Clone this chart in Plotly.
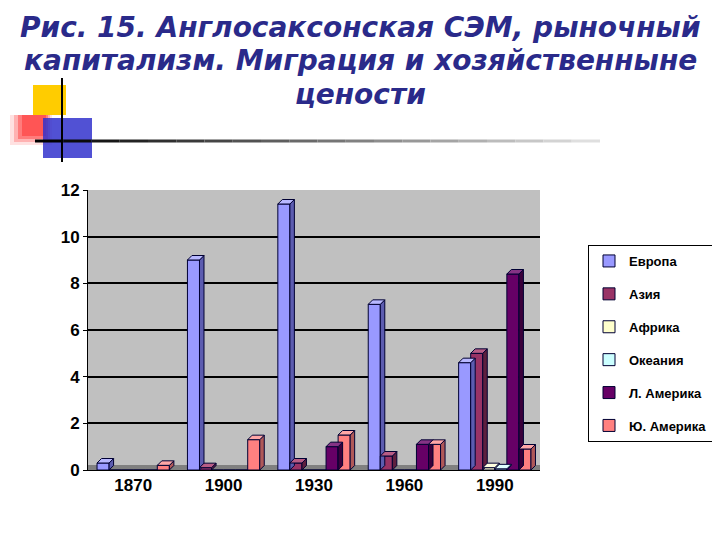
import plotly.graph_objects as go

years = ["1870", "1900", "1930", "1960", "1990"]
series_names = ["Европа", "Азия", "Африка", "Океания", "Л. Америка", "Ю. Америка"]
europe = [0.3, 9.0, 11.4, 7.1, 4.6]
asia = [0.0, 0.1, 0.3, 0.6, 5.0]
africa = [0.0, 0.0, 0.0, 0.0, 0.1]
oceania = [0.0, 0.0, 0.0, 0.0, 0.05]
lat_america = [0.0, 0.0, 1.0, 1.1, 8.4]
south_america = [0.2, 1.3, 1.5, 1.1, 0.9]
y_ticks = [0, 2, 4, 6, 8, 10, 12]
title_lines = ["Рис. 15. Англосаксонская СЭМ, рыночный",
               "капитализм. Миграция и хозяйственныне",
               "цености"]

values = [europe, asia, africa, oceania, lat_america, south_america]
colors = ["#9999ff", "#993366", "#ffffcc", "#ccffff", "#660066", "#ff8080"]
side_colors = ["#5c5cb0", "#5e1f3e", "#b0b08c", "#8cb0b0", "#3a003a", "#b05858"]
top_colors = ["#b8b8ff", "#b85c85", "#ffffe0", "#e0ffff", "#853385", "#ffa6a6"]

OFF = 8  # browser body margin
W, H = 720 - OFF, 540 - OFF
# plot area in reference pixel coordinates
PX0, PX1, PY0, PY1 = 88, 540, 190, 470
L, R, T, B = PX0 - OFF, W - (PX1 - OFF), PY0 - OFF, H - (PY1 - OFF)
pw, ph = PX1 - PX0, PY1 - PY0


def px(x):
    return (x - PX0) / pw


def py(y):
    return (PY1 - y) / ph


FONT = "Liberation Sans Narrow, Liberation Sans, Arial"

n_series = len(series_names)
bargap = 0.2
bw = (1 - bargap) / n_series
dx = 4.5 / (pw / len(years))
dy = 4.5 / (ph / 12)

fig = go.Figure()
shapes = []
xs = list(range(len(years)))
for i, (name, vals, col) in enumerate(zip(series_names, values, colors)):
    fig.add_trace(go.Bar(
        x=xs, y=vals, name=name, legendgroup=name,
        marker=dict(color=col, line=dict(color="#000033", width=1)),
    ))
    for j, v in enumerate(vals):
        if v <= 0:
            continue
        xl = j - (1 - bargap) / 2 + i * bw
        xr = xl + bw
        shapes.append(dict(type="path", xref="x", yref="y", layer="above",
                           path=f"M{xr},0 L{xr},{v} L{xr + dx},{v + dy} L{xr + dx},{dy} Z",
                           fillcolor=side_colors[i], line=dict(color="#000033", width=1)))
        shapes.append(dict(type="path", xref="x", yref="y", layer="above",
                           path=f"M{xl},{v} L{xl + dx},{v + dy} L{xr + dx},{v + dy} L{xr},{v} Z",
                           fillcolor=top_colors[i], line=dict(color="#000033", width=1)))

# floor strip
shapes.append(dict(type="rect", xref="paper", yref="paper", x0=0, x1=1, y0=0, y1=py(465),
                   fillcolor="#808080", line=dict(width=0), layer="below"))

# decorative squares
shapes.append(dict(type="rect", xref="paper", yref="paper", x0=px(33), x1=px(66), y0=py(115), y1=py(85),
                   fillcolor="#ffcc00", line=dict(width=0), layer="above"))
for i, op in enumerate([0.25, 0.45, 0.7, 0.9]):
    shapes.append(dict(type="rect", xref="paper", yref="paper", x0=px(10 + i * 4), x1=px(52 - i * 2), y0=py(145 - i * 3), y1=py(115),
                       fillcolor="#ff3333", opacity=op * 0.6, line=dict(width=0), layer="above"))
shapes.append(dict(type="rect", xref="paper", yref="paper", x0=px(43), x1=px(92), y0=py(158), y1=py(118),
                   fillcolor="#3333cc", opacity=0.85, line=dict(width=0), layer="above"))
shapes.append(dict(type="line", xref="paper", yref="paper", x0=px(62), x1=px(62), y0=py(162), y1=py(78),
                   line=dict(color="#000000", width=2), layer="above"))
# fading horizontal line
n = 20
for i in range(n):
    x0 = 35 + i * (600 - 35) / n
    x1 = 35 + (i + 1) * (600 - 35) / n
    g = int(0 + 235 * i / n)
    shapes.append(dict(type="line", xref="paper", yref="paper", x0=px(x0), x1=px(x1), y0=py(141), y1=py(141),
                       line=dict(color=f"rgb({g},{g},{g})", width=3), layer="above"))

annotations = []
for line, yc in zip(title_lines, [27, 60, 94]):
    annotations.append(dict(
        text=f"<b><i>{line}</i></b>", xref="paper", yref="paper",
        x=px(360), y=py(yc), xanchor="center", yanchor="middle", showarrow=False,
        font=dict(family="DejaVu Sans", size=28, color="#2a2a8a"), borderpad=0,
    ))

fig.update_layout(
    width=W, height=H,
    margin=dict(l=L, r=R, t=T, b=B, autoexpand=False),
    paper_bgcolor="white",
    plot_bgcolor="#c0c0c0",
    barmode="group",
    bargap=bargap,
    bargroupgap=0.0,
    shapes=shapes,
    annotations=annotations,
    font=dict(family=FONT, size=16, color="black"),
    legend=dict(
        x=px(588), y=py(245), xanchor="left", yanchor="top",
        bordercolor="black", borderwidth=1, bgcolor="white",
        font=dict(size=13, family=FONT, color="black", weight="bold"),
        tracegroupgap=13, itemwidth=30,
    ),
    showlegend=True,
)
fig.update_xaxes(
    range=[-0.5, len(years) - 0.5],
    tickvals=xs, ticktext=years,
    showline=True, linecolor="black", linewidth=1,
    tickfont=dict(size=17, family=FONT, weight="bold"),
    ticks="", showgrid=False, zeroline=False,
)
fig.update_yaxes(
    range=[0, 12], tickvals=y_ticks,
    showline=True, linecolor="black", linewidth=1,
    gridcolor="black", gridwidth=1.5,
    ticks="outside", ticklen=4, tickcolor="black",
    tickfont=dict(size=17, family=FONT, weight="bold"),
    zeroline=False,
)
fig.write_html("out.html")
